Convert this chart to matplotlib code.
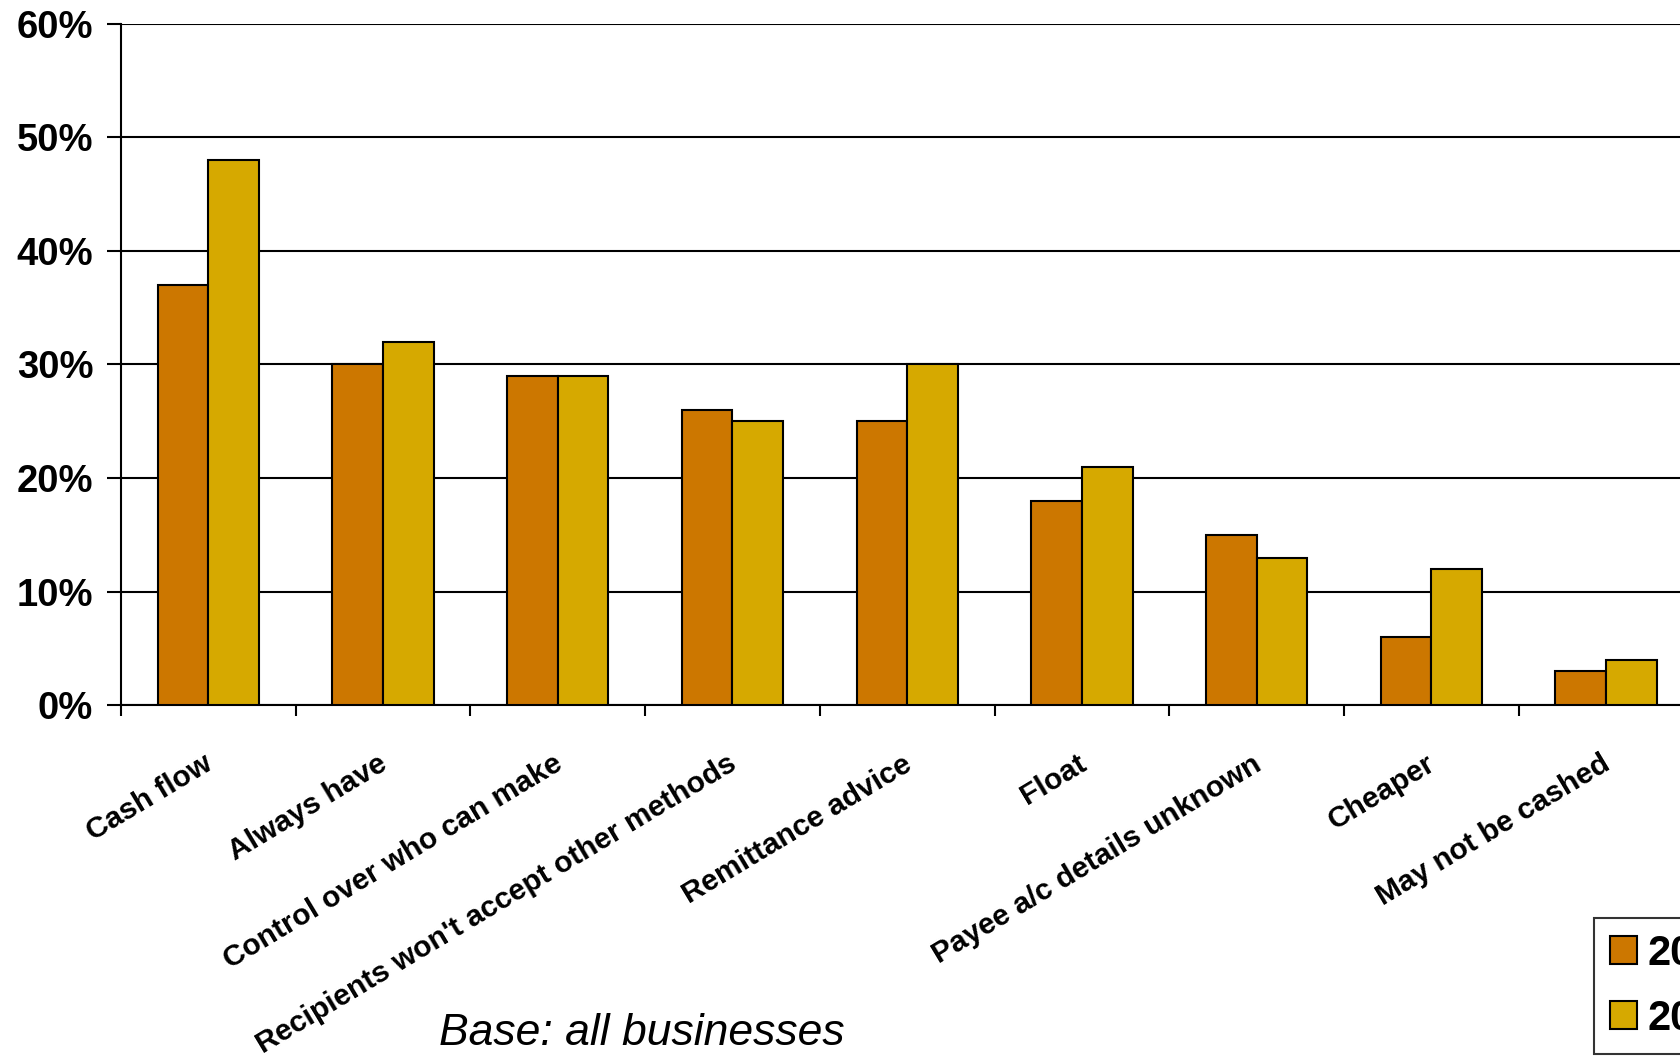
import matplotlib.pyplot as plt
import numpy as np
from matplotlib.ticker import FixedLocator, FuncFormatter

# survey answers: reasons businesses still pay by cheque
reasons = ["Cash flow", "Always have", "Control over who can make",
           "Recipients won't accept other methods", "Remittance advice",
           "Float", "Payee a/c details unknown", "Cheaper", "May not be cashed"]
series_names = ["2005", "2007"]
share_first = [37, 30, 29, 26, 25, 18, 15, 6, 3]
share_second = [48, 32, 29, 25, 30, 21, 13, 12, 4]
colors = ["#CC7700", "#D6A900"]

plt.rcParams["font.family"] = ["Liberation Sans", "DejaVu Sans"]

fig = plt.figure(figsize=(16.8, 10.59), dpi=100)
ax = fig.add_axes([0.072, 0.334, 0.936, 0.6437])

x = np.arange(len(reasons))
w = 0.29
ax.bar(x - w / 2, share_first, w, color=colors[0], edgecolor="black", linewidth=1.5,
       label=series_names[0], zorder=3)
ax.bar(x + w / 2, share_second, w, color=colors[1], edgecolor="black", linewidth=1.5,
       label=series_names[1], zorder=3)

ax.set_xlim(-0.5, len(reasons) - 0.5)
ax.set_ylim(0, 60)
ax.set_yticks(range(0, 61, 10))
ax.yaxis.set_major_formatter(FuncFormatter(lambda v, _: f"{v:.0f}%"))
ax.tick_params(axis="y", direction="out", length=10, width=1.5, pad=10,
               labelsize=27.5)
for lbl in ax.get_yticklabels():
    lbl.set_fontweight("bold")
ax.grid(axis="y", color="black", linewidth=1.5, zorder=0)

# tick marks between categories, labels under each group
ax.xaxis.set_major_locator(FixedLocator(np.arange(-0.5, len(reasons), 1.0)))
ax.xaxis.set_major_formatter(FuncFormatter(lambda v, _: ""))
ax.tick_params(axis="x", which="major", direction="out", length=8, width=1.5)
ax.xaxis.set_minor_locator(FixedLocator(x - 0.03))
ax.set_xticklabels(reasons, minor=True, rotation=31, ha="right", va="top",
                   rotation_mode="anchor", fontsize=21.5, fontweight="bold")
ax.tick_params(axis="x", which="minor", length=0, pad=32)

for side in ["top", "right"]:
    ax.spines[side].set_visible(False)
for side in ["left", "bottom"]:
    ax.spines[side].set_linewidth(1.5)

fig.text(0.382, 0.024, "Base: all businesses", fontsize=32, style="italic",
         ha="center", va="center")

leg = fig.legend(loc="upper left", bbox_to_anchor=(0.9365, 0.153),
                 prop={"weight": "bold", "size": 30}, frameon=True, fancybox=False,
                 edgecolor="black", handlelength=0.65, handleheight=0.65,
                 handletextpad=0.25, labelspacing=0.6, borderpad=0.38)
leg.get_frame().set_linewidth(1.5)

fig.savefig("out.png", dpi=100)
